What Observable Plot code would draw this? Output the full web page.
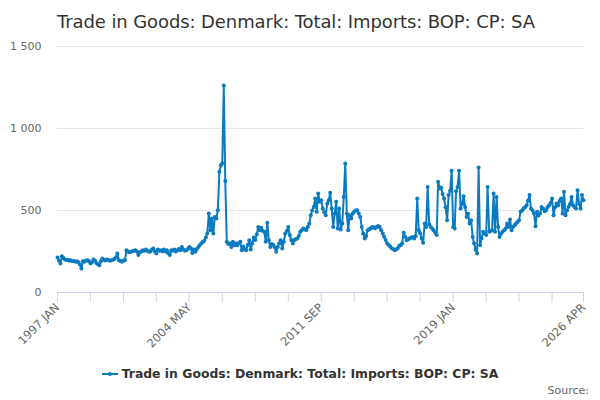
<!DOCTYPE html>
<html>
<head>
<meta charset="utf-8">
<script src="https://cdn.jsdelivr.net/npm/d3@7"></script>
<script src="https://cdn.jsdelivr.net/npm/@observablehq/plot@0.6"></script>
<style>
  html, body { margin: 0; padding: 0; background: #fff; }
  body { width: 600px; height: 400px; overflow: hidden; font-family: "DejaVu Sans", sans-serif; position: relative; }
  #title { height: 36px; padding-left: 57px; font-size: 18px; color: #333; line-height: 43px; white-space: nowrap; letter-spacing: -0.1px; }
  #chart svg { display: block; }
  #legend { position: absolute; left: 0; width: 600px; top: 366px; text-align: center; font-size: 12.4px; font-weight: bold; color: #333; white-space: nowrap; }
  #legend svg { vertical-align: middle; margin-right: 4px; position: relative; top: -1px; }
  #source { position: absolute; right: 11px; top: 384px; font-size: 11px; color: #666; }
</style>
</head>
<body>
<div id="title">Trade in Goods: Denmark: Total: Imports: BOP: CP: SA</div>
<div id="chart"></div>
<div id="legend"></div>
<div id="source">Source:</div>
<script>
const seriesName = "Trade in Goods: Denmark: Total: Imports: BOP: CP: SA";
const startYear = 1997;
const startMonth = 0; // January
const imports = [
  213, 195, 177, 221, 210, 201, 198, 200, 193, 196, 190, 192,
  187, 190, 185, 170, 146, 191, 188, 195, 197, 190, 177, 185,
  201, 195, 180, 172, 166, 190, 207, 200, 195, 201, 198, 193,
  197, 200, 205, 215, 238, 197, 192, 187, 195, 197, 258, 250,
  245, 248, 252, 255, 258, 250, 228, 245, 250, 258, 255, 262,
  255, 248, 250, 262, 268, 250, 238, 262, 255, 258, 250, 262,
  250, 258, 240, 228, 258, 255, 262, 250, 258, 265, 258, 278,
  262, 255, 258, 265, 278, 270, 241, 262, 248, 265, 278, 290,
  300, 309, 315, 335, 360, 482, 380, 451, 360, 461, 451, 502,
  736, 776, 787, 1262, 680, 309, 295, 299, 278, 309, 288, 300,
  288, 300, 309, 258, 280, 265, 258, 290, 319, 262, 300, 335,
  320, 355, 400, 380, 395, 375, 370, 309, 425, 319, 278, 295,
  290, 275, 248, 278, 300, 319, 268, 309, 360, 375, 400, 350,
  320, 299, 319, 325, 329, 345, 370, 380, 390, 385, 380, 400,
  420, 471, 500, 522, 573, 492, 604, 553, 563, 512, 490, 471,
  543, 563, 608, 512, 400, 482, 553, 390, 512, 384, 420, 583,
  787, 482, 380, 471, 451, 480, 492, 500, 502, 482, 461, 400,
  360, 329, 345, 380, 385, 390, 400, 398, 392, 400, 406, 400,
  380, 360, 340, 320, 299, 290, 280, 270, 265, 258, 262, 270,
  285, 288, 300, 365, 340, 319, 325, 330, 335, 339, 330, 345,
  573, 380, 361, 330, 303, 420, 400, 644, 416, 400, 390, 380,
  365, 350, 675, 634, 640, 600, 573, 520, 441, 594, 620, 742,
  400, 390, 618, 644, 742, 512, 540, 587, 522, 461, 480, 420,
  440, 339, 300, 260, 238, 762, 288, 330, 370, 360, 350, 644,
  370, 375, 380, 604, 370, 583, 400, 339, 360, 370, 380, 390,
  420, 400, 445, 380, 400, 410, 420, 430, 441, 492, 500, 512,
  520, 532, 560, 594, 512, 500, 482, 404, 492, 470, 482, 522,
  510, 495, 502, 520, 532, 545, 573, 471, 520, 543, 530, 560,
  573, 482, 614, 471, 500, 522, 540, 583, 532, 520, 512, 624,
  540, 512, 594, 563
];
const yTicks = [0, 500, 1000, 1500];
const xTickLabels = ["1997 JAN", "2004 MAY", "2011 SEP", "2019 JAN", "2026 APR"];
const monthNames = ["JAN","FEB","MAR","APR","MAY","JUN","JUL","AUG","SEP","OCT","NOV","DEC"];

const color = "#0b7bc1";

const data = imports.map((v, i) => ({ date: new Date(Date.UTC(startYear, startMonth + i, 1)), value: v }));

const parseLabel = s => { const [y, m] = s.split(" "); return new Date(Date.UTC(+y, monthNames.indexOf(m), 1)); };
const majorDates = xTickLabels.map(parseLabel);
const monthIndex = d => (d.getUTCFullYear() - startYear) * 12 + d.getUTCMonth() - startMonth;
const tickDates = [];
for (let k = 0; k < majorDates.length; k++) {
  tickDates.push(majorDates[k]);
  if (k < majorDates.length - 1) {
    const a = monthIndex(majorDates[k]);
    for (let j = 1; j <= 3; j++) tickDates.push(new Date(Date.UTC(startYear, startMonth + a + 22 * j, 1)));
  }
}
const labelFor = d => {
  const idx = majorDates.findIndex(m => +m === +d);
  return idx >= 0 ? xTickLabels[idx] : "";
};
const fmtY = d => d3.format(",")(d).replace(/,/g, " ");

const chart = Plot.plot({
  width: 600,
  height: 316,
  marginTop: 10,
  marginBottom: 60,
  marginLeft: 57,
  marginRight: 17,
  style: { fontFamily: "DejaVu Sans, sans-serif", background: "#fff", overflow: "visible" },
  x: { type: "utc", domain: [data[0].date, data[data.length - 1].date] },
  y: { domain: [0, 1500] },
  marks: [
    Plot.gridY(yTicks.filter(t => t > 0), { stroke: "#e6e6e6", strokeOpacity: 1, strokeWidth: 1 }),
    Plot.axisY(yTicks, { tickSize: 0, tickPadding: 16, tickFormat: fmtY, fontSize: 11, fill: "#666", label: null }),
    Plot.ruleY([0], { stroke: "#ccd6eb", strokeWidth: 1 }),
    Plot.axisX(tickDates, { tickSize: 10, stroke: "#ccd6eb", tickFormat: labelFor, tickRotate: -45, fontSize: 11.5, fill: "#666", label: null, tickPadding: 3 }),
    Plot.line(data, { x: "date", y: "value", stroke: color, strokeWidth: 2, curve: "linear" }),
    Plot.dot(data, { x: "date", y: "value", r: 2, fill: color, stroke: "none" })
  ]
});
document.getElementById("chart").appendChild(chart);

const legend = document.getElementById("legend");
legend.innerHTML = `<svg width="16" height="10"><line x1="0" y1="5" x2="16" y2="5" stroke="${color}" stroke-width="2"/><circle cx="8" cy="5" r="2" fill="${color}"/></svg>` + seriesName;
</script>
</body>
</html>
